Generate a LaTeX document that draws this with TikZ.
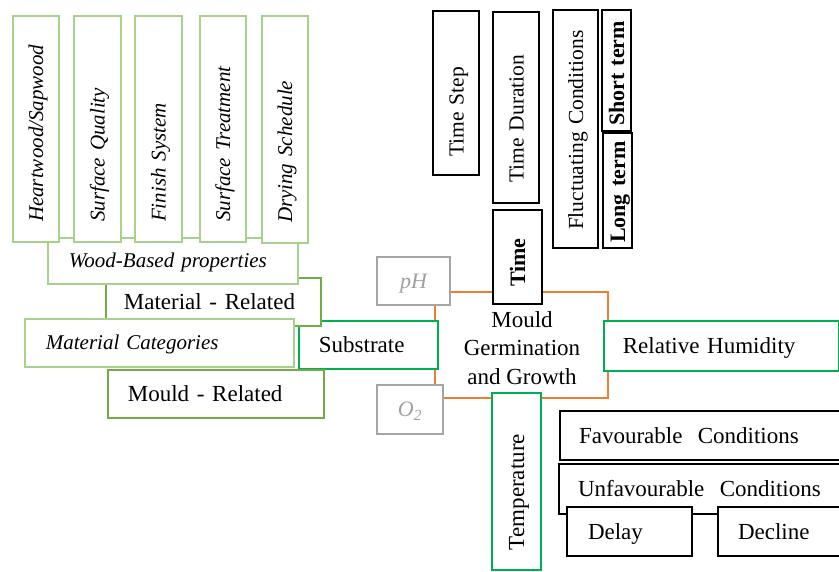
\documentclass[tikz,border=0pt]{standalone}
\usepackage{fontspec}
\setmainfont{Liberation Serif}
\definecolor{lgreen}{HTML}{A9D18E}
\definecolor{mgreen}{HTML}{70AD47}
\definecolor{vgreen}{HTML}{00B050}
\definecolor{bgray}{HTML}{A5A5A5}
\definecolor{tgray}{HTML}{A0A0A0}
\definecolor{borange}{HTML}{ED7D31}
\tikzset{
  base/.style={draw, fill=white, rectangle, inner ysep=0pt, inner xsep=20pt,
    text height=15pt, text depth=0pt, align=left},
  rmf/.style={font=\fontsize{23}{27}\selectfont},
  rmv/.style={font=\fontsize{21.5}{25}\selectfont},
  bfv/.style={font=\fontsize{22}{26}\selectfont\bfseries},
  itf/.style={font=\fontsize{21}{25}\selectfont\itshape},
  lgbox/.style={base, draw=lgreen, line width=1.8pt, itf, text height=14pt},
  mgbox/.style={base, draw=mgreen, line width=1.8pt, rmf},
  gbox/.style={base, draw=vgreen, line width=1.8pt, rmf},
  kbox/.style={base, draw=black, line width=2pt, rmf},
  graybox/.style={base, draw=bgray, line width=2pt, align=center, text width=,
    font=\fontsize{22}{26}\selectfont\itshape, text=tgray},
  centrebox/.style={draw=borange, line width=1.8pt, rectangle, fill=white, inner sep=0pt},
  centretext/.style={align=center, font=\fontsize{23}{28.5}\selectfont, inner sep=0pt}
}
\begin{document}
\begin{tikzpicture}[x=1pt,y=-1pt]
\useasboundingbox (0,0) rectangle (839,572);
\begin{scope}
\clip (0,0) rectangle (839,572);
% centre
\node[centrebox, minimum width=173pt, minimum height=106pt] (mould) at (521.5,345) {};
\node[centretext] (mouldtxt) at (522,348) {Mould\\Germination\\and Growth};
\node[graybox, minimum width=73pt, minimum height=48pt, inner xsep=0pt] (ph) at (413.5,281) {pH};
\node[graybox, minimum width=66pt, minimum height=49pt, inner xsep=0pt] (o2) at (410,409.5) {O\textsubscript{2}};
% left group
\node[gbox, anchor=north west, minimum width=139pt, minimum height=48pt, text width=99pt] (sub) at (298,320) {Substrate};
\node[mgbox, anchor=north west, minimum width=215pt, minimum height=48pt, inner xsep=18pt, text width=179pt] (matrel) at (105,277) {Material - Related};
\node[lgbox, anchor=north west, minimum width=250pt, minimum height=46pt, inner xsep=21pt, text width=208pt] (wood) at (47,237) {Wood-Based properties};
\node[lgbox, rotate=90, minimum width=226pt, minimum height=46pt, text width=186pt] (hs) at (36,129) {Heartwood/Sapwood};
\node[lgbox, rotate=90, minimum width=226pt, minimum height=47pt, text width=186pt] (sq) at (97.5,129) {Surface Quality};
\node[lgbox, rotate=90, minimum width=226pt, minimum height=47pt, text width=186pt] (fs) at (158.5,129) {Finish System};
\node[lgbox, rotate=90, minimum width=226pt, minimum height=46pt, text width=186pt] (st) at (223,129) {Surface Treatment};
\node[lgbox, rotate=90, minimum width=227pt, minimum height=46pt, text width=187pt] (ds) at (285,129.5) {Drying Schedule};
\node[lgbox, anchor=north west, minimum width=269pt, minimum height=48pt, inner xsep=21pt, text width=227pt] (matcat) at (24,318) {Material Categories};
\node[mgbox, anchor=north west, minimum width=216pt, minimum height=48pt, text width=176pt] (mouldrel) at (107,369) {Mould - Related};
% right of centre
\node[gbox, anchor=north west, minimum width=235pt, minimum height=50pt, inner xsep=19pt, text width=197pt] (rh) at (603,320) {Relative Humidity};
\node[gbox, rotate=90, minimum width=177pt, minimum height=49pt, text width=137pt] (temp) at (516.5,481.5) {Temperature};
\node[kbox, rotate=90, minimum width=94pt, minimum height=49pt, inner xsep=17pt, text width=60pt, bfv] (time) at (517.5,257) {Time};
% bottom right
\node[kbox, anchor=north west, minimum width=320pt, minimum height=49pt, inner xsep=19pt, text width=282pt] (fav) at (559,410) {Favourable \ Conditions};
\node[kbox, anchor=north west, minimum width=322pt, minimum height=50pt, inner xsep=19pt, text width=284pt] (unfav) at (558,463) {Unfavourable \ Conditions};
\node[kbox, anchor=north west, minimum width=125pt, minimum height=49pt, inner xsep=21pt, text width=83pt] (delay) at (566,506) {Delay};
\node[kbox, anchor=north west, minimum width=163pt, minimum height=49pt, text width=123pt] (decline) at (717,506) {Decline};
% top right
\node[kbox, rotate=90, minimum width=164pt, minimum height=46pt, inner xsep=18pt, text width=128pt, rmv] (tstep) at (456,93) {Time Step};
\node[kbox, rotate=90, minimum width=191pt, minimum height=46pt, text width=151pt, rmv] (tdur) at (516,107.5) {Time Duration};
\node[kbox, rotate=90, minimum width=238pt, minimum height=45pt, inner xsep=18pt, text width=202pt, rmv] (fluct) at (575.5,129) {Fluctuating Conditions};
\node[kbox, rotate=90, minimum width=121pt, minimum height=29pt, inner xsep=5pt, text width=111pt, bfv] (short) at (616.5,70.5) {Short term};
\node[kbox, rotate=90, minimum width=115pt, minimum height=29pt, inner xsep=5pt, text width=105pt, bfv] (long) at (617.5,190.5) {Long term};
\end{scope}
\end{tikzpicture}
\end{document}
